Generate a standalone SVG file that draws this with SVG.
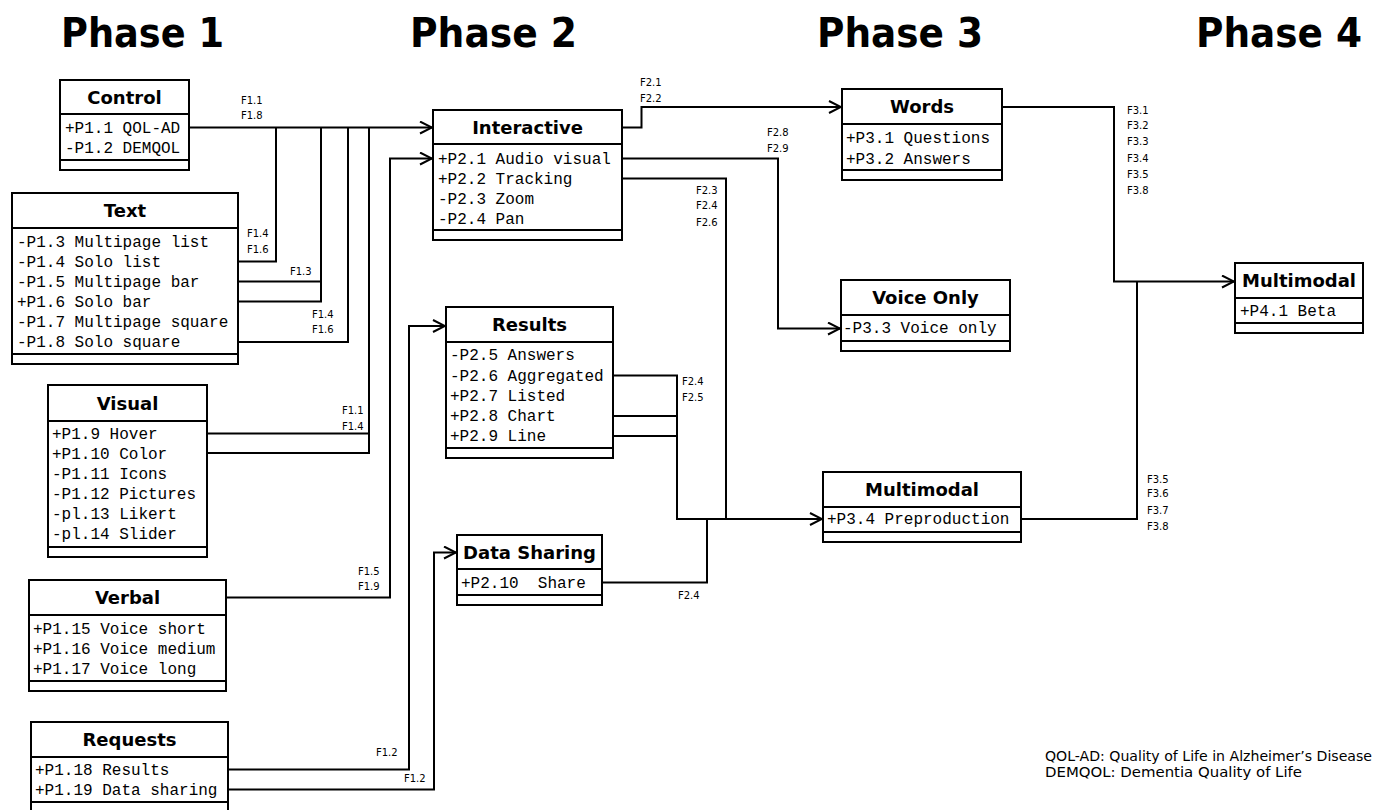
<svg xmlns="http://www.w3.org/2000/svg" width="1375" height="810" viewBox="0 0 1375 810">
<style>
.box{fill:#fff;stroke:#000;stroke-width:2}
.div{stroke:#000;stroke-width:2}
.ttl{font-family:"DejaVu Sans",Verdana,sans-serif;font-weight:bold;font-size:18px;text-anchor:middle;fill:#000}
.row{font-family:"Liberation Mono","Courier New",monospace;font-size:16px;fill:#000}
.lbl{font-family:"DejaVu Sans",Verdana,sans-serif;font-size:10px;fill:#000}
.phase{font-family:"DejaVu Sans",Verdana,sans-serif;font-weight:bold;font-size:40px;fill:#000}
.leg{font-family:"DejaVu Sans",Verdana,sans-serif;font-size:13.5px;fill:#000}
.con{fill:none;stroke:#000;stroke-width:2}
</style>
<defs>
<marker id="arr" markerUnits="userSpaceOnUse" viewBox="0 0 14 14" refX="13" refY="7" markerWidth="14" markerHeight="14" orient="auto">
<path d="M1,1 L13,7 L1,13" fill="none" stroke="#000" stroke-width="2"/>
</marker>
</defs>
<rect width="1375" height="810" fill="#fff"/>

<g id="phases">
<text class="phase" x="61" y="47" textLength="163" lengthAdjust="spacingAndGlyphs">Phase 1</text>
<text class="phase" x="410" y="47" textLength="167" lengthAdjust="spacingAndGlyphs">Phase 2</text>
<text class="phase" x="817" y="47" textLength="166" lengthAdjust="spacingAndGlyphs">Phase 3</text>
<text class="phase" x="1196" y="47" textLength="166" lengthAdjust="spacingAndGlyphs">Phase 4</text>
</g>

<g id="connectors">
<path class="con" d="M189,127.5 H432" marker-end="url(#arr)"/>
<path class="con" d="M276,127.5 V261.5 H238"/>
<path class="con" d="M321,127.5 V301.5 H238 M238,281.5 H321"/>
<path class="con" d="M348,127.5 V342 H238"/>
<path class="con" d="M369,127.5 V453 H207 M207,433.5 H369"/>
<path class="con" d="M226,597.5 H390 V158.5 H432" marker-end="url(#arr)"/>
<path class="con" d="M228,769.5 H409 V326 H445" marker-end="url(#arr)"/>
<path class="con" d="M228,789.5 H434 V552.5 H456" marker-end="url(#arr)"/>
<path class="con" d="M622,127.5 H641.5 V107 H841" marker-end="url(#arr)"/>
<path class="con" d="M622,158.5 H778 V328.5 H840" marker-end="url(#arr)"/>
<path class="con" d="M622,178.5 H726 V519"/>
<path class="con" d="M613,375.5 H677 V519 H822" marker-end="url(#arr)"/>
<path class="con" d="M613,416 H677 M613,436 H677"/>
<path class="con" d="M602,582.5 H707 V519"/>
<path class="con" d="M1002,107 H1114 V281.5 H1234" marker-end="url(#arr)"/>
<path class="con" d="M1021,519 H1137 V281.5"/>
<g id="labels">
<text class="lbl" x="241" y="104">F1.1</text>
<text class="lbl" x="241" y="119">F1.8</text>
<text class="lbl" x="247" y="236.5">F1.4</text>
<text class="lbl" x="247" y="252.5">F1.6</text>
<text class="lbl" x="290" y="274.5">F1.3</text>
<text class="lbl" x="312" y="317.5">F1.4</text>
<text class="lbl" x="312" y="332.5">F1.6</text>
<text class="lbl" x="342" y="413.5">F1.1</text>
<text class="lbl" x="342" y="430">F1.4</text>
<text class="lbl" x="358" y="574.5">F1.5</text>
<text class="lbl" x="358" y="589.5">F1.9</text>
<text class="lbl" x="376" y="756">F1.2</text>
<text class="lbl" x="404" y="781.5">F1.2</text>
<text class="lbl" x="640" y="86">F2.1</text>
<text class="lbl" x="640" y="101.5">F2.2</text>
<text class="lbl" x="767" y="136">F2.8</text>
<text class="lbl" x="767" y="151.5">F2.9</text>
<text class="lbl" x="696" y="193.5">F2.3</text>
<text class="lbl" x="696" y="209">F2.4</text>
<text class="lbl" x="696" y="225.5">F2.6</text>
<text class="lbl" x="682" y="384.5">F2.4</text>
<text class="lbl" x="682" y="400.5">F2.5</text>
<text class="lbl" x="678" y="598.5">F2.4</text>
<text class="lbl" x="1127" y="113.5">F3.1</text>
<text class="lbl" x="1127" y="129">F3.2</text>
<text class="lbl" x="1127" y="145">F3.3</text>
<text class="lbl" x="1127" y="161.5">F3.4</text>
<text class="lbl" x="1127" y="177.5">F3.5</text>
<text class="lbl" x="1127" y="193.5">F3.8</text>
<text class="lbl" x="1147" y="482.5">F3.5</text>
<text class="lbl" x="1147" y="497">F3.6</text>
<text class="lbl" x="1147" y="513.5">F3.7</text>
<text class="lbl" x="1147" y="530">F3.8</text>
</g>
</g>

<g id="control">
<rect class="box" x="60" y="80" width="129" height="90"/>
<line class="div" x1="60" y1="114" x2="189" y2="114"/>
<line class="div" x1="60" y1="160" x2="189" y2="160"/>
<text class="ttl" x="124.5" y="104">Control</text>
<text class="row" x="65" y="132.5">+P1.1 QOL-AD</text>
<text class="row" x="65" y="152.5">-P1.2 DEMQOL</text>
</g>

<g id="text">
<rect class="box" x="12" y="193" width="226" height="171"/>
<line class="div" x1="12" y1="228" x2="238" y2="228"/>
<line class="div" x1="12" y1="354" x2="238" y2="354"/>
<text class="ttl" x="125" y="217">Text</text>
<text class="row" x="17" y="246.5">-P1.3 Multipage list</text>
<text class="row" x="17" y="266.5">-P1.4 Solo list</text>
<text class="row" x="17" y="286.5">-P1.5 Multipage bar</text>
<text class="row" x="17" y="306.5">+P1.6 Solo bar</text>
<text class="row" x="17" y="326.5">-P1.7 Multipage square</text>
<text class="row" x="17" y="346.5">-P1.8 Solo square</text>
</g>

<g id="visual">
<rect class="box" x="48" y="385" width="159" height="172"/>
<line class="div" x1="48" y1="421" x2="207" y2="421"/>
<line class="div" x1="48" y1="547" x2="207" y2="547"/>
<text class="ttl" x="127.5" y="409.5">Visual</text>
<text class="row" x="52" y="438.5">+P1.9 Hover</text>
<text class="row" x="52" y="458.5">+P1.10 Color</text>
<text class="row" x="52" y="478.5">-P1.11 Icons</text>
<text class="row" x="52" y="498.5">-P1.12 Pictures</text>
<text class="row" x="52" y="518.5">-pl.13 Likert</text>
<text class="row" x="52" y="538.5">-pl.14 Slider</text>
</g>

<g id="verbal">
<rect class="box" x="29" y="580" width="197" height="111"/>
<line class="div" x1="29" y1="615" x2="226" y2="615"/>
<line class="div" x1="29" y1="681" x2="226" y2="681"/>
<text class="ttl" x="127.5" y="604">Verbal</text>
<text class="row" x="33" y="633.5">+P1.15 Voice short</text>
<text class="row" x="33" y="653.5">+P1.16 Voice medium</text>
<text class="row" x="33" y="673.5">+P1.17 Voice long</text>
</g>

<g id="requests">
<rect class="box" x="31" y="722" width="197" height="92"/>
<line class="div" x1="31" y1="757" x2="228" y2="757"/>
<line class="div" x1="31" y1="802" x2="228" y2="802"/>
<text class="ttl" x="129.5" y="746">Requests</text>
<text class="row" x="35" y="775">+P1.18 Results</text>
<text class="row" x="35" y="795">+P1.19 Data sharing</text>
</g>

<g id="interactive">
<rect class="box" x="433" y="110" width="189" height="130"/>
<line class="div" x1="433" y1="144" x2="622" y2="144"/>
<line class="div" x1="433" y1="230" x2="622" y2="230"/>
<text class="ttl" x="527.5" y="134">Interactive</text>
<text class="row" x="438" y="163.5">+P2.1 Audio visual</text>
<text class="row" x="438" y="183.5">+P2.2 Tracking</text>
<text class="row" x="438" y="203.5">-P2.3 Zoom</text>
<text class="row" x="438" y="223.5">-P2.4 Pan</text>
</g>

<g id="results">
<rect class="box" x="446" y="307" width="167" height="151"/>
<line class="div" x1="446" y1="342" x2="613" y2="342"/>
<line class="div" x1="446" y1="448" x2="613" y2="448"/>
<text class="ttl" x="529.5" y="331">Results</text>
<text class="row" x="450" y="360">-P2.5 Answers</text>
<text class="row" x="450" y="380.5">-P2.6 Aggregated</text>
<text class="row" x="450" y="400.5">+P2.7 Listed</text>
<text class="row" x="450" y="420.5">+P2.8 Chart</text>
<text class="row" x="450" y="440.5">+P2.9 Line</text>
</g>

<g id="datasharing">
<rect class="box" x="457" y="535" width="145" height="70"/>
<line class="div" x1="457" y1="569" x2="602" y2="569"/>
<line class="div" x1="457" y1="595" x2="602" y2="595"/>
<text class="ttl" x="529.5" y="559">Data Sharing</text>
<text class="row" x="461" y="587.5" xml:space="preserve">+P2.10  Share</text>
</g>

<g id="words">
<rect class="box" x="842" y="89" width="160" height="91"/>
<line class="div" x1="842" y1="124" x2="1002" y2="124"/>
<line class="div" x1="842" y1="170" x2="1002" y2="170"/>
<text class="ttl" x="922" y="113">Words</text>
<text class="row" x="846" y="143">+P3.1 Questions</text>
<text class="row" x="846" y="163.5">+P3.2 Answers</text>
</g>

<g id="voiceonly">
<rect class="box" x="841" y="280" width="169" height="71"/>
<line class="div" x1="841" y1="315" x2="1010" y2="315"/>
<line class="div" x1="841" y1="341" x2="1010" y2="341"/>
<text class="ttl" x="925.5" y="304">Voice Only</text>
<text class="row" x="843" y="333">-P3.3 Voice only</text>
</g>

<g id="multimodal3">
<rect class="box" x="823" y="472" width="198" height="70"/>
<line class="div" x1="823" y1="507" x2="1021" y2="507"/>
<line class="div" x1="823" y1="532" x2="1021" y2="532"/>
<text class="ttl" x="922" y="496">Multimodal</text>
<text class="row" x="827" y="524">+P3.4 Preproduction</text>
</g>

<g id="multimodal4">
<rect class="box" x="1235" y="263" width="128" height="70"/>
<line class="div" x1="1235" y1="298" x2="1363" y2="298"/>
<line class="div" x1="1235" y1="323" x2="1363" y2="323"/>
<text class="ttl" x="1299" y="287">Multimodal</text>
<text class="row" x="1240" y="316">+P4.1 Beta</text>
</g>

<g id="legend">
<text class="leg" x="1045" y="761" textLength="327" lengthAdjust="spacingAndGlyphs">QOL-AD: Quality of Life in Alzheimer’s Disease</text>
<text class="leg" x="1045" y="777" textLength="257" lengthAdjust="spacingAndGlyphs">DEMQOL: Dementia Quality of Life</text>
</g>
</svg>
